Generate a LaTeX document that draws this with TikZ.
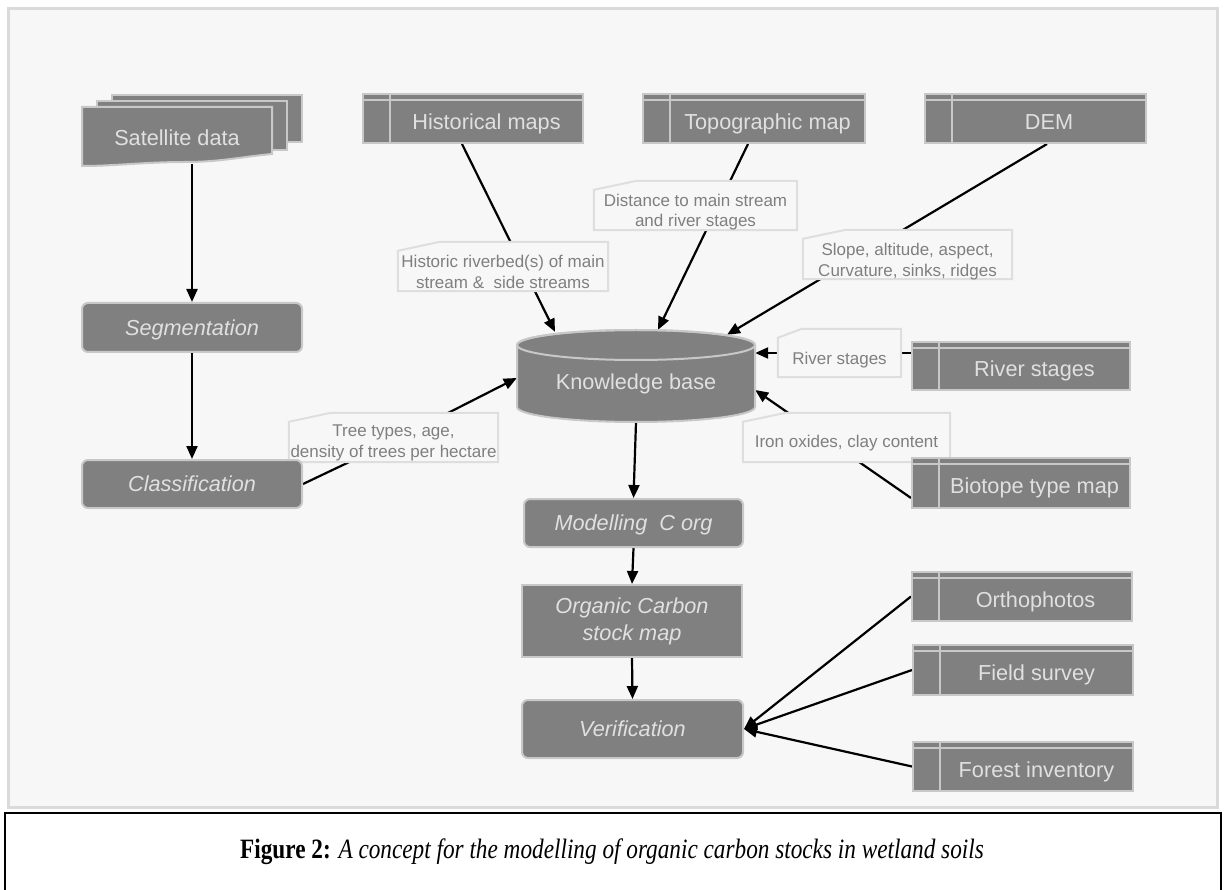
\documentclass[tikz,border=0pt]{standalone}
\usepackage{fontspec}
\usepackage{graphicx}
\setmainfont{Liberation Sans}
\newfontfamily\capfont{Liberation Serif}
\usetikzlibrary{arrows.meta}
\definecolor{nfill}{HTML}{808080}
\definecolor{nbord}{HTML}{C8C8C8}
\definecolor{ntext}{HTML}{E0E0E0}
\definecolor{cbord}{HTML}{DEDEDE}
\definecolor{ctext}{HTML}{7F7F7F}
\definecolor{pfill}{HTML}{F7F7F7}
\definecolor{pbord}{HTML}{DADADA}
\pgfdeclarelayer{back}
\pgfdeclarelayer{conn}
\pgfdeclarelayer{cshp}
\pgfsetlayers{back,conn,cshp,main}
\newcommand\cshape[4]{% name, dx, dy, upshift
  \begin{pgfonlayer}{cshp}
  \draw[cbord,fill=pfill,line width=2pt,line join=miter]
    ([yshift=#4pt]#1.south west) -- ([yshift=#4pt-#3pt]#1.north west) --
    ([xshift=#2pt,yshift=#4pt]#1.north west) -- ([yshift=#4pt]#1.north east) --
    ([yshift=#4pt]#1.south east) -- cycle;
  \end{pgfonlayer}}
\begin{document}
\begin{tikzpicture}[x=1pt,y=-1pt,
  nodetxt/.style={text=ntext,font=\fontsize{21.7}{26}\selectfont,text height=15.5pt,text depth=0pt},
  store/.style={nodetxt,draw=nbord,fill=nfill,line width=2pt,minimum height=49pt,inner sep=0pt,
    path picture={
      \draw[nbord,line width=2pt] ([xshift=27pt]path picture bounding box.north west) -- ([xshift=27pt]path picture bounding box.south west);
      \draw[nbord,line width=2pt] ([yshift=-6pt]path picture bounding box.north west) -- ([yshift=-6pt]path picture bounding box.north east);}},
  proc/.style={nodetxt,font=\fontsize{21.7}{27}\selectfont\itshape,draw=nbord,fill=nfill,line width=2pt,rounded corners=6pt,inner sep=0pt,minimum width=220pt,minimum height=49pt},
  call/.style={text=ctext,font=\fontsize{17}{20.5}\selectfont,align=center,inner sep=0pt,minimum height=49pt},
  arr/.style={line width=2.2pt,-{Triangle[length=13pt,width=11pt]}}]
\useasboundingbox (0,0) rectangle (1226,890);
\begin{pgfonlayer}{back}
\fill[white] (0,0) rectangle (1226,890);
\draw[pbord,fill=pfill,line width=3pt] (8.5,8.5) rectangle (1217.5,807.5);
\draw[black,line width=2.5pt] (5,813) rectangle (1221,910);
\end{pgfonlayer}

% satellite data (multi-document)
\draw[nbord,fill=nfill,line width=2pt] (112,95) rectangle (302,142);
\draw[nbord,fill=nfill,line width=2pt] (97,101) rectangle (287,150);
\draw[nbord,fill=nfill,line width=2pt] (82,107) -- (272,107) -- (272,154)
  .. controls (240,157) and (220,162) .. (185,162)
  .. controls (145,162) and (115,166) .. (82,166) -- cycle;
\node[nodetxt,minimum width=190pt,minimum height=52pt,inner sep=0pt] (sat) at (177,138) {Satellite data};

% data stores
\node[store,minimum width=220pt] (hist) at (473,118.5) {\hspace*{27pt}\raisebox{-3pt}{Historical maps}};
\node[store,minimum width=222pt] (topo) at (754,118.5) {\hspace*{27pt}\raisebox{-3pt}{Topographic map}};
\node[store,minimum width=221pt] (dem) at (1035.5,118.5) {\hspace*{27pt}\raisebox{-3pt}{DEM}};
\node[store,minimum width=218pt,minimum height=48pt] (rivs) at (1021,366) {\hspace*{27pt}\raisebox{-3pt}{River stages}};
\node[store,minimum width=218pt,minimum height=50pt] (bio) at (1021,483) {\hspace*{27pt}\raisebox{-3pt}{Biotope type map}};
\node[store,minimum width=220pt] (ortho) at (1022,596.5) {\hspace*{27pt}\raisebox{-3pt}{Orthophotos}};
\node[store,minimum width=220pt,minimum height=50pt] (field) at (1023,670) {\hspace*{27pt}\raisebox{-3pt}{Field survey}};
\node[store,minimum width=220pt] (forest) at (1023,766.5) {\hspace*{27pt}\raisebox{-3pt}{Forest inventory}};

% process boxes
\node[proc] (seg) at (192,327.5) {Segmentation};
\node[proc,minimum height=48pt] (cls) at (192,484) {Classification};
\node[proc,minimum width=219pt,minimum height=48pt] (mod) at (633.5,523) {Modelling\ \ C org};
\node[proc,rounded corners=0pt,minimum height=72pt,align=center,text height=,text depth=] (org) at (632,621) {\raisebox{0pt}{Organic Carbon}\\stock map};
\node[proc,minimum width=221pt,minimum height=58pt] (ver) at (632.5,729) {Verification};

% knowledge base (cylinder)
\draw[nbord,fill=nfill,line width=2pt] (517,345) -- (517,407)
  arc[start angle=180,end angle=360,x radius=119pt,y radius=15pt] -- (755,345)
  arc[start angle=0,end angle=180,x radius=119pt,y radius=15pt] -- cycle;
\draw[nbord,line width=2pt] (636,345) ellipse [x radius=119pt,y radius=15pt];
\node[nodetxt,minimum width=238pt,minimum height=92pt,inner sep=0pt] (kb) at (636,376) {\raisebox{-6pt}{Knowledge base}};

% callouts (text nodes; outline drawn shifted up)
\node[call,minimum width=210pt] (ht) at (503,272) {Historic riverbed(s) of main\\stream \&\ \ side streams};
\cshape{ht}{42}{9}{5.5}
\node[call,minimum width=203pt] (dist) at (695.5,212) {Distance to main stream\\and river stages};
\cshape{dist}{43}{9}{6.5}
\node[call,minimum width=209pt] (slope) at (907.5,261.5) {Slope, altitude, aspect,\\Curvature, sinks, ridges};
\cshape{slope}{43}{9}{7}
\node[call,minimum width=123pt,minimum height=48pt] (rsc) at (839.5,360.5) {River stages};
\cshape{rsc}{24}{9}{7.5}
\node[call,minimum width=207pt] (iron) at (846.5,443) {Iron oxides, clay content};
\cshape{iron}{43}{9}{5.5}
\node[call,minimum width=209pt] (tt) at (393.5,443) {Tree types, age,\\density of trees per hectare};
\cshape{tt}{42}{9}{5.5}

% connectors
\begin{pgfonlayer}{conn}
\draw[arr] ([xshift=15pt]sat.south) -- (seg.north);
\draw[arr] (seg.south) -- (cls.north);
\draw[arr] (cls.east) -- (385,445) -- ([yshift=-2pt]kb.west);
\draw[arr] ([xshift=-11pt]hist.south) -- ([xshift=-81pt,yshift=-2pt]kb.north);
\draw[arr] ([xshift=-6pt]topo.south) -- ([xshift=22pt]kb.north);
\draw[arr] ([xshift=11.5pt]dem.south) -- ([xshift=91pt,yshift=-5pt]kb.north);
\draw[arr] ([yshift=13pt]rivs.west) -- ([yshift=13pt]rivs.west -| kb.east);
\draw[arr] ([yshift=-15pt]bio.west) -- ([yshift=-14pt]kb.east);
\draw[arr] (kb.south) -- (mod.north);
\draw[arr] (mod.south) -- (org.north);
\draw[arr] (org.south) -- (ver.north);
\draw[arr] (ortho.west) -- (ver.east);
\draw[arr] (field.west) -- (ver.east);
\draw[arr] (forest.west) -- (ver.east);
\end{pgfonlayer}

% caption
\node[font=\capfont\fontsize{28}{30}\selectfont] (cap) at (612,852) {\scalebox{0.83}[1]{\textbf{Figure 2:} \textit{A concept for the modelling of organic carbon stocks in wetland soils}}};
\end{tikzpicture}
\end{document}
